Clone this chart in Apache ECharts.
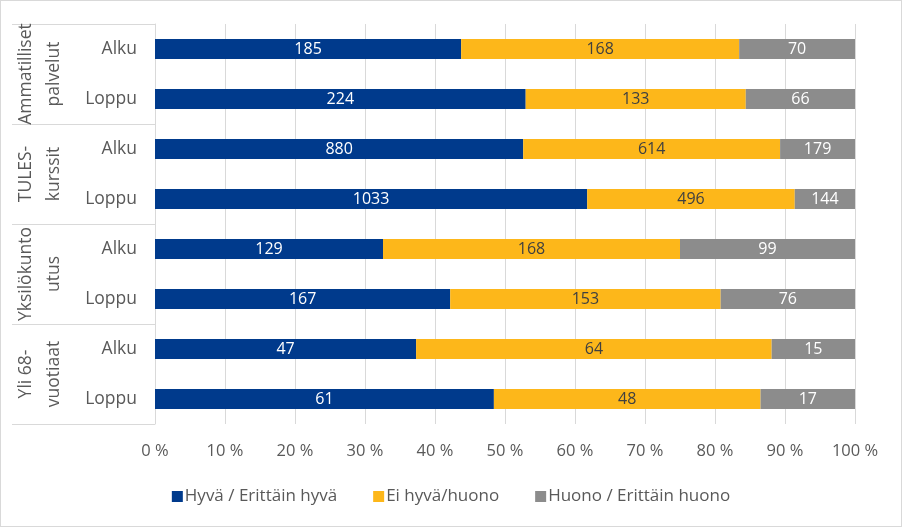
<!DOCTYPE html>
<html>
<head>
<meta charset="utf-8">
<script src="https://cdn.jsdelivr.net/npm/echarts@6/dist/echarts.min.js"></script>
<style>
html,body{margin:0;padding:0;background:#fff;}
#wrap{width:902px;height:527px;box-sizing:border-box;border:1px solid #d9d9d9;}
#chart{width:900px;height:525px;}
</style>
</head>
<body>
<div id="wrap"><div id="chart"></div></div>
<script>
const groups = ['Ammatilliset\npalvelut', 'TULES-\nkurssit', 'Yksilökunto\nutus', 'Yli 68-\nvuotiaat'];
const rows = ['Alku', 'Loppu', 'Alku', 'Loppu', 'Alku', 'Loppu', 'Alku', 'Loppu'];
const seriesNames = ['Hyvä / Erittäin hyvä', 'Ei hyvä/huono', 'Huono / Erittäin huono'];
const good = [185, 224, 880, 1033, 129, 167, 47, 61];
const neutral = [168, 133, 614, 496, 168, 153, 64, 48];
const bad = [70, 66, 179, 144, 99, 76, 15, 17];
const xTicks = ['0 %','10 %','20 %','30 %','40 %','50 %','60 %','70 %','80 %','90 %','100 %'];

const counts = [good, neutral, bad];
const totals = good.map((v, i) => v + neutral[i] + bad[i]);
const colors = ['#003a8c', '#fdb71a', '#8c8c8c'];
const labelColors = ['#ffffff', '#404040', '#ffffff'];
const font = '"Segoe UI", "Open Sans", "Noto Sans", sans-serif';

const chart = echarts.init(document.getElementById('chart'));
chart.setOption({
  animation: false,
  textStyle: {fontFamily: font},
  grid: {left: 154, right: 46, top: 23, bottom: 102, containLabel: false},
  legend: {
    bottom: 16,
    left: 'center',
    itemWidth: 11,
    itemHeight: 11,
    itemGap: 36,
    icon: 'rect',
    textStyle: {fontFamily: font, fontSize: 17, color: '#595959', padding: [0,0,0,-3]},
    data: seriesNames
  },
  xAxis: {
    type: 'value',
    min: 0, max: 100, interval: 10,
    axisLine: {show: false},
    axisTick: {show: false},
    splitLine: {show: true, lineStyle: {color: '#d9d9d9', width: 1}},
    axisLabel: {
      fontFamily: font, fontSize: 16.5, color: '#595959', margin: 19,
      formatter: (v) => xTicks[Math.round(v / 10)]
    }
  },
  yAxis: [
    {
      type: 'category',
      data: rows,
      inverse: true,
      position: 'left',
      axisLine: {show: true, lineStyle: {color: '#d9d9d9'}},
      axisTick: {show: false},
      axisLabel: {fontFamily: font, fontSize: 17.5, color: '#595959', margin: 18, interval: 0}
    },
    {
      type: 'category',
      data: groups,
      inverse: true,
      position: 'left',
      offset: 0,
      axisLine: {show: false},
      axisTick: {show: true, interval: 0, length: 143, lineStyle: {color: '#d9d9d9'}},
      axisLabel: {fontFamily: font, fontSize: 17.5, color: '#595959', rotate: 90, margin: 87, lineHeight: 28, interval: 0, hideOverlap: false}
    }
  ],
  series: counts.map((arr, si) => ({
    name: seriesNames[si],
    type: 'bar',
    stack: 'total',
    yAxisIndex: 0,
    barWidth: 20,
    itemStyle: {color: colors[si]},
    label: {
      show: true,
      position: 'inside',
      fontFamily: font,
      fontSize: 16,
      color: labelColors[si],
      formatter: (p) => String(arr[p.dataIndex])
    },
    data: arr.map((v, i) => v / totals[i] * 100)
  }))
});
</script>
</body>
</html>
